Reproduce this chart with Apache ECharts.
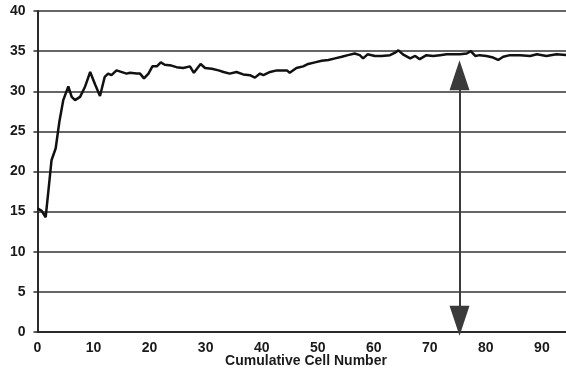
<!DOCTYPE html>
<html>
<head>
<meta charset="utf-8">
<script src="https://cdn.jsdelivr.net/npm/echarts@6/dist/echarts.min.js"></script>
<style>
html,body{margin:0;padding:0;background:#fff;}
#c{width:566px;height:377px;}
</style>
</head>
<body>
<div id="c"></div>
<script>
// Data
const cellNumber = [0,0.75,1.46,2.05,2.5,3.25,3.9,4.6,5.5,6.1,6.7,7.6,8.5,9.4,10.3,11.15,12.0,12.6,13.2,14.1,15.9,
  16.5,17.7,18.3,19.0,19.8,20.5,21.3,22.0,22.7,23.9,24.8,26.0,27.2,27.9,29.1,29.9,31.1,32.3,33.2,34.3,35.5,36.7,37.9,38.8,39.7,40.3,41.5,42.7,
  43.3,44.5,45.0,46.2,47.4,48.3,49.5,50.7,51.9,53.1,54.3,55.4,56.6,57.5,58.1,58.9,60.2,61.4,62.9,63.8,64.4,65.2,66.5,67.4,68.2,
  69.4,70.6,71.8,73.0,74.2,75.4,76.6,77.3,78.1,78.9,80.1,81.3,82.2,83.1,84.3,86.1,87.9,89.1,90.8,92.6,94.4];
const values = [15.4,15.1,14.3,18.3,21.4,22.9,26.2,28.9,30.6,29.3,28.9,29.3,30.6,32.4,30.8,29.4,31.8,32.2,32.0,32.6,32.2,
  32.3,32.2,32.2,31.6,32.2,33.1,33.1,33.6,33.3,33.2,33.0,32.9,33.1,32.3,33.4,32.9,32.8,32.6,32.4,32.2,32.4,32.1,32.0,31.7,32.2,32.0,32.4,32.6,
  32.6,32.6,32.3,32.9,33.1,33.4,33.6,33.8,33.9,34.1,34.3,34.5,34.7,34.5,34.1,34.6,34.4,34.4,34.5,34.8,35.1,34.6,34.1,34.4,34.0,
  34.5,34.4,34.5,34.6,34.6,34.6,34.7,35.0,34.4,34.5,34.4,34.2,33.9,34.3,34.5,34.5,34.4,34.6,34.4,34.6,34.5];
const xRange = [0, 94.3];
const yRange = [0, 40];
const arrowX = [75.3];
const arrowY = [32.0, 1.4];
const xTitle = 'Cumulative Cell Number';

const seriesData = cellNumber.map((x, i) => [x, values[i]]);
const font = "'Liberation Sans', Arial, sans-serif";

const chart = echarts.init(document.getElementById('c'), null, {renderer: 'canvas'});
chart.setOption({
  backgroundColor: '#ffffff',
  animation: false,
  title: {
    text: xTitle,
    left: 306,
    textAlign: 'center',
    top: 354,
    padding: 0,
    textStyle: {fontFamily: font, fontSize: 14, fontWeight: 'bold', color: '#1a1a1a', lineHeight: 14}
  },
  grid: {left: 37.5, right: 0, top: 11, bottom: 45},
  xAxis: {
    type: 'value',
    min: xRange[0], max: xRange[1], interval: 10,
    axisLine: {show: true, lineStyle: {color: '#2a2a2a', width: 2}},
    axisTick: {show: false},
    splitLine: {show: false},
    axisLabel: {
      showMaxLabel: false, margin: 9,
      fontFamily: font, fontSize: 14, fontWeight: 'bold', color: '#1a1a1a',
      formatter: v => (v % 10 === 0 ? String(v) : '')
    }
  },
  yAxis: {
    type: 'value',
    min: yRange[0], max: yRange[1], interval: 5,
    axisLine: {show: true, lineStyle: {color: '#2a2a2a', width: 2}},
    axisTick: {show: true, length: 4, lineStyle: {color: '#2a2a2a', width: 1.5}},
    splitLine: {show: true, lineStyle: {color: '#333', width: 1.6}},
    axisLabel: {margin: 12, fontFamily: font, fontSize: 14, fontWeight: 'bold', color: '#1a1a1a'}
  },
  series: [{
    type: 'line',
    data: seriesData,
    showSymbol: false,
    smooth: false,
    lineStyle: {color: '#111', width: 2.5},
    z: 3,
    markLine: {
      silent: true,
      symbol: ['triangle', 'triangle'],
      symbolSize: [20, 30],
      label: {show: false},
      lineStyle: {color: '#3a3a3a', width: 2, type: 'solid'},
      data: [[{coord: [arrowX[0], arrowY[0]]}, {coord: [arrowX[0], arrowY[1]]}]]
    }
  }]
});
</script>
</body>
</html>
